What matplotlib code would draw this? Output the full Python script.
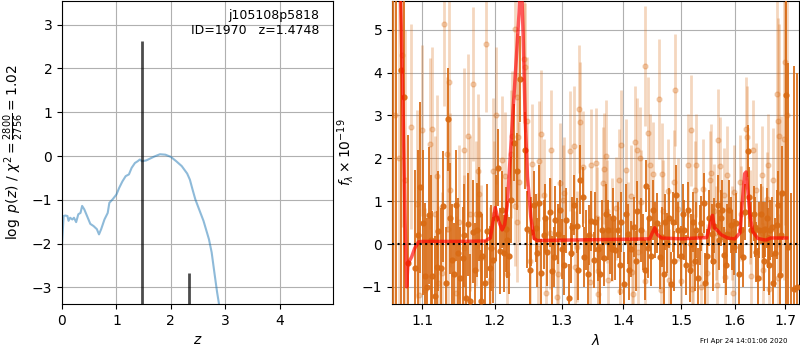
import matplotlib
matplotlib.use("Agg")
import matplotlib.pyplot as plt
from matplotlib.ticker import FixedLocator, FixedFormatter, NullLocator

# ---------------- left panel data: log p(z) ----------------
z_grid = [0.00, 0.03, 0.06, 0.10, 0.12, 0.15, 0.19, 0.22, 0.26, 0.30, 0.34, 0.37,
          0.41, 0.46, 0.52, 0.58, 0.64, 0.68, 0.72, 0.78, 0.84, 0.87, 0.93, 1.00,
          1.05, 1.11, 1.17, 1.23, 1.28, 1.34, 1.39, 1.43, 1.47, 1.55, 1.60, 1.70,
          1.80, 1.90, 2.00, 2.10, 2.20, 2.30, 2.35, 2.40, 2.45, 2.52, 2.60, 2.70,
          2.75, 2.80, 2.85, 2.88, 2.95]
log_pz = [-2.02, -1.37, -1.36, -1.37, -1.48, -1.41, -1.45, -1.41, -1.51, -1.33, -1.30, -1.14,
          -1.22, -1.37, -1.55, -1.60, -1.67, -1.79, -1.67, -1.45, -1.30, -1.07, -0.99, -0.88,
          -0.73, -0.58, -0.46, -0.42, -0.27, -0.16, -0.12, -0.08, -0.12, -0.10, -0.07, -0.01,
          0.04, 0.03, -0.02, -0.12, -0.23, -0.40, -0.54, -0.77, -0.99, -1.22, -1.48, -1.90,
          -2.20, -2.66, -3.11, -3.34, -4.00]
peak_z = [1.4748, 2.33]
peak_top = [2.63, -2.68]

# ---------------- right panel data: spectrum ----------------
dark_wave = [1.0625, 1.0660, 1.0720, 1.0760, 1.0816, 1.0904, 1.0970, 1.1037, 1.1083, 1.1130,
             1.1166, 1.1199, 1.1244, 1.1276, 1.1345, 1.1392, 1.1428, 1.1475, 1.1544, 1.1590,
             1.1622, 1.1649, 1.1690, 1.1741, 1.1797, 1.1820, 1.1889, 1.1925, 1.1949, 1.1972,
             1.2039, 1.2079, 1.2128, 1.2154, 1.2203, 1.2239, 1.2278, 1.2318, 1.2367, 1.2437,
             1.2478, 1.2537, 1.2601, 1.2651, 1.2687, 1.2725, 1.2776, 1.2815, 1.2851, 1.2900,
             1.2949, 1.3000, 1.3066, 1.3108, 1.3164, 1.3234, 1.3289, 1.3333, 1.3382, 1.3420,
             1.3464, 1.3508, 1.3530, 1.3584, 1.3640, 1.3682, 1.3748, 1.3803, 1.3857, 1.3902,
             1.3967, 1.4010, 1.4070, 1.4127, 1.4185, 1.4232, 1.4290, 1.4332, 1.4389, 1.4430,
             1.4476, 1.4534, 1.4581, 1.4621, 1.4663, 1.4709, 1.4756, 1.4813, 1.4855, 1.4913,
             1.4953, 1.5000, 1.5061, 1.5123, 1.5160, 1.5215, 1.5276, 1.5318, 1.5368, 1.5418,
             1.5479, 1.5521, 1.5565, 1.5613, 1.5676, 1.5737, 1.5797, 1.5860, 1.5921, 1.5982,
             1.6079, 1.6127, 1.6192, 1.6246, 1.6312, 1.6365, 1.6411, 1.6476, 1.6544, 1.6590,
             1.6643, 1.6695, 1.6742, 1.6828, 1.6893, 1.6941, 1.7006, 1.7062, 1.7110, 1.7175,
             1.7240]
dark_flux = [6.00, -2.00, 4.07, 3.43, -0.45, -0.57, 1.32, -0.74, 0.67, -0.74,
             -1.21, -0.53, -0.57, 0.88, 2.91, -0.37, -0.71, -0.22, -0.33, -1.26,
             0.46, -1.33, 0.29, 0.33, -1.33, -0.29, 0.30, -0.57, -0.10, -0.37,
             1.78, -0.17, -0.22, 0.34, -0.27, 1.02, 2.36, 1.70, 3.85, 2.19,
             0.34, 0.29, 0.37, 0.95, -0.68, 0.22, -0.18, 0.74, -0.62, 0.55,
             0.24, -0.12, 0.55, -1.26, 0.40, 0.43, 1.50, 1.10, 0.09, -0.71,
             0.53, -0.37, 0.51, -0.11, 0.33, -0.33, 0.33, -0.11, -0.15, 0.33,
             0.51, -0.93, 0.24, -0.11, 0.40, 0.77, 0.33, 0.05, 1.35, 0.60,
             -0.28, 0.33, 0.48, -0.31, 0.17, 0.51, 0.02, -0.93, 0.51, 1.14,
             0.33, -0.29, 0.33, 0.79, -0.60, 0.51, 0.33, -0.80, 0.48, 0.95,
             -0.29, 0.60, 0.24, 0.43, 0.90, 0.60, -0.25, 0.24, 0.45, -0.07,
             -0.70, 0.33, 0.75, 2.17, 0.33, 0.71, -0.19, 0.33, 0.33, 0.34,
             0.15, 0.33, -0.92, 0.45, -0.72, 1.19, 3.48, -0.07, -1.60, -1.05,
             -1.00]
dark_err = [12.0, 10.0, 7.0, 6.0, 3.0, 2.3, 2.0, 1.7, 1.6, 1.5,
            1.4, 1.3, 1.4, 1.3, 1.2, 1.3, 1.2, 1.3, 1.2, 1.3,
            1.2, 1.1, 1.2, 1.1, 1.2, 1.0, 1.1, 1.0, 1.0, 1.0,
            0.9, 1.0, 0.9, 1.0, 0.9, 1.0, 0.9, 0.9, 1.0, 0.9,
            0.9, 0.8, 0.8, 0.9, 0.8, 0.8, 0.8, 0.8, 0.8, 0.8,
            0.7, 0.7, 0.75, 0.8, 0.7, 0.65, 0.8, 0.7, 0.7, 0.75,
            0.7, 0.65, 0.7, 0.75, 0.7, 0.65, 0.7, 0.75, 0.7, 0.65,
            0.7, 0.75, 0.7, 0.65, 0.7, 0.7, 0.75, 0.65, 0.6, 0.7,
            0.7, 0.65, 0.7, 0.75, 0.7, 0.65, 0.7, 0.75, 0.7, 0.7,
            0.65, 0.7, 0.7, 0.65, 0.75, 0.7, 0.65, 0.7, 0.65, 0.7,
            0.65, 0.65, 0.7, 0.65, 0.7, 0.65, 0.65, 0.7, 0.65, 0.65,
            0.7, 0.65, 0.65, 0.6, 0.65, 0.65, 0.7, 0.65, 0.65, 0.65,
            0.7, 0.7, 0.7, 0.8, 0.9, 1.1, 5.0, 4.3, 2.8, 5.2,
            5.0]

# partly hidden dark points between the clearly visible ones
dark2_wave = [1.0940, 1.1010, 1.1060, 1.1110, 1.1215, 1.1310, 1.1370, 1.1450, 1.1510, 1.1565,
              1.1715, 1.1770, 1.1860, 1.2010, 1.2100, 1.2180, 1.2510, 1.2570, 1.2625, 1.2750,
              1.2880, 1.2975, 1.3040, 1.3140, 1.3200, 1.3260, 1.3360, 1.3440, 1.3610, 1.3710,
              1.3775, 1.3830, 1.3935, 1.4040, 1.4100, 1.4210, 1.4360, 1.4410, 1.4505, 1.4690,
              1.4780, 1.4880, 1.5030, 1.5090, 1.5190, 1.5250, 1.5340, 1.5445, 1.5590, 1.5705,
              1.5760, 1.5830, 1.5890, 1.5950, 1.6030, 1.6160, 1.6280, 1.6390, 1.6445, 1.6510,
              1.6565, 1.6620, 1.6670, 1.6720, 1.6785, 1.6860, 1.6920]
dark2_flux = [0.20, 0.50, -1.00, 0.10, 0.30, -0.90, 0.60, 0.90, -0.80, 0.20,
              -0.60, 0.70, -0.90, 0.60, 0.80, 0.10, -0.60, 0.90, -0.20, 0.60,
              -0.30, 0.80, -0.50, -0.20, 0.90, -0.60, -0.30, 0.20, -0.70, 0.70,
              0.00, 0.60, -0.50, 0.70, -0.60, -0.40, -0.60, -0.10, 0.80, -0.70,
              0.60, -0.40, 0.70, -0.50, 0.00, -0.40, 0.20, -0.90, -0.40, 0.10,
              0.80, -0.50, 0.80, 0.10, 0.50, -0.30, 1.10, 0.40, -0.80, 0.70,
              -0.40, 0.60, -0.50, 0.40, -0.20, 0.90, 0.20]
dark2_err = [2.0, 1.7, 1.6, 1.5, 1.4, 1.3, 1.3, 1.3, 1.2, 1.2,
             1.1, 1.1, 1.0, 1.0, 0.9, 0.9, 0.8, 0.8, 0.8, 0.8,
             0.7, 0.7, 0.7, 0.7, 0.7, 0.7, 0.7, 0.7, 0.7, 0.7,
             0.7, 0.7, 0.7, 0.7, 0.7, 0.7, 0.7, 0.7, 0.7, 0.7,
             0.7, 0.7, 0.7, 0.7, 0.7, 0.7, 0.7, 0.7, 0.7, 0.7,
             0.7, 0.7, 0.7, 0.7, 0.7, 0.7, 0.7, 0.7, 0.7, 0.7,
             0.7, 0.7, 0.7, 0.7, 0.8, 0.8, 1.0]

light_wave = [1.0640, 1.0690, 1.0740, 1.0780, 1.0847, 1.0926, 1.0950, 1.1000, 1.1030, 1.1097,
              1.1130, 1.1166, 1.1190, 1.1210, 1.1268, 1.1290, 1.1327, 1.1337, 1.1360, 1.1373,
              1.1452, 1.1497, 1.1558, 1.1566, 1.1620, 1.1649, 1.1690, 1.1728, 1.1760, 1.1780,
              1.1797, 1.1870, 1.1935, 1.1972, 1.1980, 1.2019, 1.2104, 1.2139, 1.2169, 1.2229,
              1.2244, 1.2288, 1.2300, 1.2318, 1.2328, 1.2335, 1.2345, 1.2427, 1.2445, 1.2467,
              1.2516, 1.2552, 1.2636, 1.2651, 1.2676, 1.2725, 1.2765, 1.2826, 1.2836, 1.2925,
              1.2949, 1.2975, 1.3016, 1.3030, 1.3124, 1.3190, 1.3204, 1.3243, 1.3274, 1.3290,
              1.3333, 1.3443, 1.3464, 1.3546, 1.3562, 1.3574, 1.3584, 1.3660, 1.3682, 1.3710,
              1.3726, 1.3748, 1.3803, 1.3874, 1.3928, 1.3940, 1.3967, 1.4040, 1.4070, 1.4127,
              1.4140, 1.4162, 1.4197, 1.4232, 1.4244, 1.4272, 1.4290, 1.4360, 1.4372, 1.4419,
              1.4448, 1.4507, 1.4604, 1.4639, 1.4663, 1.4680, 1.4768, 1.4780, 1.4873, 1.4901,
              1.4942, 1.5000, 1.5123, 1.5184, 1.5200, 1.5215, 1.5245, 1.5276, 1.5370, 1.5399,
              1.5479, 1.5534, 1.5552, 1.5613, 1.5645, 1.5660, 1.5676, 1.5724, 1.5797, 1.5810,
              1.5860, 1.5951, 1.5960, 1.5982, 1.6099, 1.6110, 1.6214, 1.6234, 1.6297, 1.6312,
              1.6347, 1.6411, 1.6524, 1.6530, 1.6544, 1.6628, 1.6655, 1.6673, 1.6742, 1.6830,
              1.6842, 1.6855, 1.6875, 1.6903, 1.6972, 1.7000, 1.7030]
light_flux = [3.00, 2.00, 4.40, 1.50, 2.74, 0.93, -1.18, 2.65, -1.07, 2.34,
              2.69, 0.71, 1.58, -0.91, -0.68, 5.13, 2.09, 0.34, 3.79, 1.26,
              -1.15, 0.52, 2.20, -0.10, 2.53, 0.71, 3.73, 0.71, 1.70, 1.16,
              -0.33, 4.67, -0.84, 1.70, 0.70, 3.00, 1.95, 1.58, -0.71, 2.10,
              2.53, 5.02, 0.88, 0.52, 3.42, 2.50, 1.45, 4.32, 4.12, 2.86,
              -0.40, 1.86, -0.10, 1.93, 2.57, 1.14, -1.15, 0.25, 2.20, -1.24,
              -0.71, 1.43, 1.02, 1.20, 2.18, 2.28, -0.53, -0.06, 3.15, 2.84,
              1.80, -0.88, 1.84, 1.88, 0.60, -0.64, -1.17, 1.43, 1.76, 2.05,
              0.76, -0.84, 0.33, 0.83, 1.49, -1.10, 2.30, 1.72, 0.24, 1.12,
              -0.66, -1.17, 2.38, 2.20, -0.19, 2.00, 0.99, -0.87, 4.16, 2.60,
              1.84, 1.64, 3.38, -1.07, 1.63, 0.76, 1.24, -0.84, 1.45, 3.59,
              0.81, -0.87, 1.84, 2.65, -1.05, -0.45, 1.26, 1.84, -1.00, 1.29,
              -0.68, 1.49, 1.65, 0.77, 0.25, -0.95, 2.42, 1.82, 1.14, -0.76,
              1.61, 0.25, -1.15, 1.22, 1.45, 0.71, 2.69, 2.49, 0.63, -0.74,
              2.20, 1.26, 1.61, 0.25, -0.60, 1.04, 1.84, -1.05, 1.50, 3.50,
              -0.80, 2.88, 2.53, 1.18, 2.45, 4.24, 3.00]
light_err = [6.0, 5.0, 4.0, 3.5, 2.4, 2.2, 2.0, 2.0, 1.9, 2.0,
             1.9, 1.8, 1.9, 1.8, 1.9, 1.9, 1.8, 1.8, 1.9, 1.8,
             1.8, 1.8, 1.9, 1.7, 1.9, 1.8, 1.8, 1.7, 1.8, 1.8,
             1.7, 1.6, 1.7, 1.7, 1.7, 1.6, 1.5, 1.5, 1.4, 1.5,
             1.5, 1.6, 1.4, 1.4, 1.5, 1.5, 1.4, 1.5, 1.5, 1.5,
             1.3, 1.4, 1.3, 1.4, 1.5, 1.3, 1.3, 1.3, 1.4, 1.3,
             1.3, 1.4, 1.3, 1.3, 1.4, 1.4, 1.3, 1.3, 1.5, 1.4,
             1.3, 1.2, 1.3, 1.3, 1.2, 1.2, 1.2, 1.3, 1.3, 1.3,
             1.2, 1.2, 1.2, 1.2, 1.2, 1.2, 1.3, 1.2, 1.2, 1.2,
             1.2, 1.2, 1.3, 1.2, 1.2, 1.2, 1.2, 1.2, 1.4, 1.3,
             1.2, 1.2, 1.4, 1.2, 1.2, 1.2, 1.2, 1.2, 1.2, 1.3,
             1.2, 1.2, 1.2, 1.3, 1.2, 1.15, 1.15, 1.2, 1.15, 1.15,
             1.15, 1.15, 1.15, 1.1, 1.1, 1.1, 1.2, 1.15, 1.1, 1.1,
             1.15, 1.1, 1.1, 1.1, 1.1, 1.1, 1.2, 1.2, 1.1, 1.1,
             1.15, 1.1, 1.15, 1.1, 1.1, 1.1, 1.2, 1.15, 1.2, 2.8,
             1.5, 2.4, 2.6, 1.8, 3.3, 3.8, 3.8]

model_wave = [1.0680, 1.0720, 1.0750, 1.0775, 1.0795, 1.0810, 1.0830, 1.0860, 1.0900, 1.0950,
              1.1000, 1.1500, 1.1860, 1.1935, 1.2005, 1.2050, 1.2104, 1.2140, 1.2179, 1.2240,
              1.2303, 1.2353, 1.2380, 1.2413, 1.2443, 1.2478, 1.2527, 1.2576, 1.2625, 1.3000,
              1.4000, 1.4448, 1.4490, 1.4534, 1.4580, 1.4654, 1.5000, 1.5470, 1.5520, 1.5576,
              1.5613, 1.5660, 1.5737, 1.5860, 1.6000, 1.6099, 1.6146, 1.6190, 1.6218, 1.6245,
              1.6290, 1.6347, 1.6445, 1.6608, 1.6703, 1.7026]
model_flux = [8.00, 5.50, 3.00, 0.50, -1.00, -0.50, -0.40, -0.30, -0.10, 0.05,
              0.06, 0.06, 0.07, 0.14, 0.85, 0.55, 0.33, 0.45, 0.90, 2.50,
              4.10, 5.40, 6.50, 4.90, 2.96, 1.57, 0.64, 0.13, 0.08, 0.09,
              0.11, 0.12, 0.25, 0.38, 0.22, 0.14, 0.12, 0.15, 0.39, 0.67,
              0.38, 0.33, 0.22, 0.14, 0.12, 0.26, 1.00, 1.64, 1.68, 1.33,
              0.71, 0.29, 0.13, 0.09, 0.14, 0.14]

xticks_r = [1.1, 1.2, 1.3, 1.4, 1.5, 1.6, 1.7]
xtick_labels_r = ['1.1', '1.2', '1.3', '1.4', '1.5', '1.6', '1.7']

# ---------------- figure ----------------
orange = (0.85, 0.42, 0.08)
fig = plt.figure(figsize=(8, 3.5), dpi=100)
ax1 = fig.add_axes([62/800, 46/350, 271/800, 303/350])
ax2 = fig.add_axes([392/800, 46/350, 407/800, 303/350])

# left panel
ax1.plot(z_grid, log_pz, color='C0', alpha=0.5, lw=1.5)
ylo1, yhi1 = -3.38, 3.54
ax1.vlines(peak_z, ymin=ylo1 - 1, ymax=peak_top, color='k', alpha=0.7, lw=2)
ax1.set_xlim(0, 4.98)
ax1.set_ylim(ylo1, yhi1)
ax1.set_xticks([0, 1, 2, 3, 4])
ax1.set_yticks([-3, -2, -1, 0, 1, 2, 3])
ax1.grid(True)
ax1.set_axisbelow(True)
ax1.set_xlabel(r'$z$')
ax1.set_ylabel(r'$\log\ p(z)$ / $\chi^2=\frac{2800}{2756}=1.02$')
ax1.text(0.95, 0.975, 'j105108p5818\nID=1970   z=1.4748', ha='right', va='top',
         transform=ax1.transAxes, fontsize=9)

# right panel
ax2.errorbar(light_wave, light_flux, yerr=light_err, fmt='o', ms=3.5, color=orange,
             alpha=0.27, elinewidth=2.0, capsize=0, zorder=2)
ax2.errorbar(dark_wave, dark_flux, yerr=dark_err, fmt='o', ms=3.5, color=orange,
             alpha=0.9, elinewidth=1.4, capsize=0, zorder=3)
ax2.errorbar(dark2_wave, dark2_flux, yerr=dark2_err, fmt='o', ms=3.5, color=orange,
             alpha=0.9, elinewidth=1.4, capsize=0, zorder=3)
ax2.plot(model_wave, model_flux, color='red', alpha=0.65, lw=2.5, zorder=5)
ax2.axhline(0, color='k', ls=':', lw=1.5, zorder=6)
ax2.set_xscale('log')
ax2.set_xlim(1.0607, 1.728)
ax2.set_ylim(-1.40, 5.67)
ax2.xaxis.set_major_locator(FixedLocator(xticks_r))
ax2.xaxis.set_major_formatter(FixedFormatter(xtick_labels_r))
ax2.xaxis.set_minor_locator(NullLocator())
ax2.set_yticks([-1, 0, 1, 2, 3, 4, 5])
ax2.grid(True)
ax2.set_axisbelow(True)
ax2.set_xlabel(r'$\lambda$')
ax2.set_ylabel(r'$f_\lambda\times10^{-19}$')

fig.text(0.984, 0.018, 'Fri Apr 24 14:01:06 2020', ha='right', va='bottom', fontsize=5)

fig.savefig('out.png', dpi=100)
